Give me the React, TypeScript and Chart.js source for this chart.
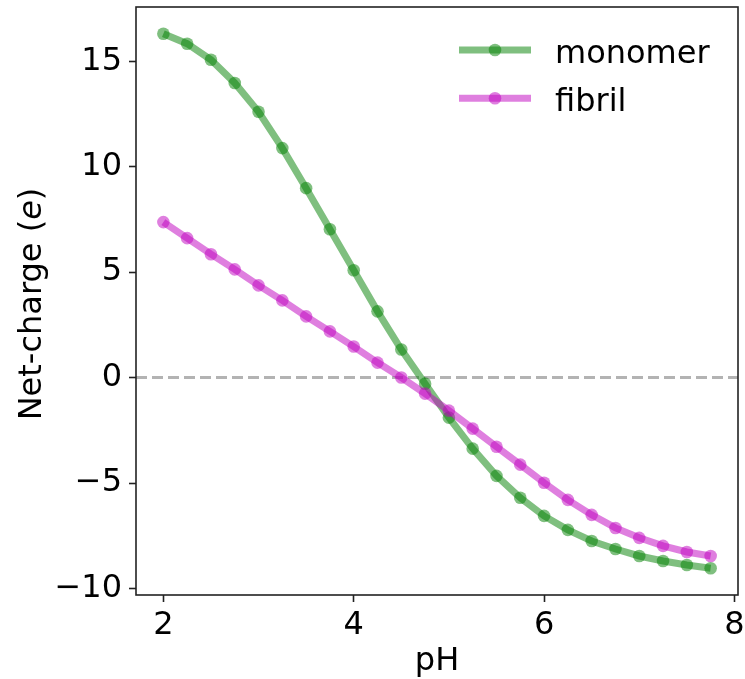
import React, { useEffect, useRef } from "react";
import { Chart, registerables } from "chart.js";

Chart.register(...registerables);

const pH = [2.0, 2.25, 2.5, 2.75, 3.0, 3.25, 3.5, 3.75, 4.0, 4.25, 4.5, 4.75, 5.0, 5.25, 5.5, 5.75, 6.0, 6.25, 6.5, 6.75, 7.0, 7.25, 7.5, 7.75];
const monomer = [16.3, 15.83, 15.07, 13.97, 12.6, 10.88, 8.98, 7.03, 5.09, 3.14, 1.33, -0.29, -1.9, -3.37, -4.66, -5.7, -6.56, -7.22, -7.75, -8.13, -8.46, -8.7, -8.89, -9.04];
const fibril = [7.37, 6.61, 5.85, 5.13, 4.37, 3.66, 2.9, 2.19, 1.47, 0.71, 0.0, -0.76, -1.57, -2.42, -3.28, -4.13, -4.99, -5.8, -6.51, -7.13, -7.6, -7.98, -8.27, -8.46];
const xTicks = [2, 4, 6, 8];
const yTicks = [-10, -5, 0, 5, 10, 15];
const seriesNames = ["monomer", "fibril"];
const lineColors = ["rgba(0,128,0,0.5)", "rgba(191,0,191,0.5)"];

const FONT = "'DejaVu Sans', sans-serif";

function fmt(v: number): string {
  return v < 0 ? "\u2212" + Math.abs(v) : String(v);
}

const customPlugin = {
  id: "custom",
  beforeDatasetsDraw(chart: any) {
    const { ctx, chartArea, scales } = chart;
    const y0 = scales.y.getPixelForValue(0);
    ctx.save();
    ctx.strokeStyle = "rgba(128,128,128,0.6)";
    ctx.lineWidth = 3;
    ctx.setLineDash([11, 5]);
    ctx.beginPath();
    ctx.moveTo(chartArea.left, y0);
    ctx.lineTo(chartArea.right, y0);
    ctx.stroke();
    ctx.restore();
  },
  afterDraw(chart: any) {
    const { ctx, chartArea } = chart;
    ctx.save();
    // spines
    ctx.strokeStyle = "#222";
    ctx.lineWidth = 1.6;
    ctx.strokeRect(chartArea.left, chartArea.top, chartArea.right - chartArea.left, chartArea.bottom - chartArea.top);

    // legend
    const lx0 = 459, lx1 = 531, tx = 555;
    const rows = [50, 98.3];
    seriesNames.forEach((name, i) => {
      const y = rows[i];
      ctx.strokeStyle = lineColors[i];
      ctx.lineWidth = 7;
      ctx.lineCap = "butt";
      ctx.beginPath();
      ctx.moveTo(lx0, y);
      ctx.lineTo(lx1, y);
      ctx.stroke();
      ctx.fillStyle = lineColors[i];
      ctx.beginPath();
      ctx.arc((lx0 + lx1) / 2, y, 6.3, 0, Math.PI * 2);
      ctx.fill();
      ctx.fillStyle = "#000";
      ctx.font = `32px ${FONT}`;
      ctx.textAlign = "left";
      ctx.textBaseline = "alphabetic";
      ctx.fillText(name, tx, y + 13);
    });

    // x title
    ctx.fillStyle = "#000";
    ctx.font = `32px ${FONT}`;
    ctx.textAlign = "center";
    ctx.textBaseline = "alphabetic";
    ctx.fillText("pH", (chartArea.left + chartArea.right) / 2, 670);

    // y title with italic e
    const parts: [string, string][] = [
      ["Net-charge (", `32px ${FONT}`],
      ["e", `italic 32px ${FONT}`],
      [")", `32px ${FONT}`],
    ];
    let total = 0;
    const widths = parts.map(([t, f]) => {
      ctx.font = f;
      const w = ctx.measureText(t).width;
      total += w;
      return w;
    });
    ctx.translate(41, 304);
    ctx.rotate(-Math.PI / 2);
    let x = -total / 2;
    ctx.textAlign = "left";
    parts.forEach(([t, f], i) => {
      ctx.font = f;
      ctx.fillText(t, x, 0);
      x += widths[i];
    });
    ctx.restore();
  },
};

export default function App() {
  const canvasRef = useRef<HTMLCanvasElement | null>(null);

  useEffect(() => {
    const canvas = canvasRef.current;
    if (!canvas) return;
    const mkData = (vals: number[]) => pH.map((x, i) => ({ x, y: vals[i] }));
    const chart = new Chart(canvas, {
      type: "line",
      data: {
        datasets: [
          {
            label: seriesNames[0],
            data: mkData(monomer),
            borderColor: lineColors[0],
            backgroundColor: lineColors[0],
            borderWidth: 7,
            pointRadius: 6.3,
            pointBorderWidth: 0,
            pointBackgroundColor: lineColors[0],
            tension: 0,
            fill: false,
            order: 1,
          },
          {
            label: seriesNames[1],
            data: mkData(fibril),
            borderColor: lineColors[1],
            backgroundColor: lineColors[1],
            borderWidth: 7,
            pointRadius: 6.3,
            pointBorderWidth: 0,
            pointBackgroundColor: lineColors[1],
            tension: 0,
            fill: false,
            order: 0,
          },
        ],
      },
      options: {
        animation: false,
        responsive: false,
        devicePixelRatio: 1,
        layout: { padding: { top: 7, right: 7, left: 0, bottom: 0 } },
        plugins: {
          legend: { display: false },
          tooltip: { enabled: false },
          title: { display: false },
        },
        scales: {
          x: {
            type: "linear",
            min: 1.7125,
            max: 8.0375,
            afterBuildTicks: (axis: any) => {
              axis.ticks = xTicks.map((v) => ({ value: v }));
            },
            afterFit: (axis: any) => {
              axis.height = 84;
              axis.paddingLeft = 0;
              axis.paddingRight = 0;
            },
            border: { display: false },
            grid: {
              display: true,
              drawOnChartArea: false,
              drawTicks: true,
              tickLength: 7,
              tickWidth: 1.6,
              tickColor: "#222",
            },
            ticks: {
              color: "#000",
              font: { family: FONT, size: 32 },
              padding: 4,
              maxRotation: 0,
              autoSkip: false,
              callback: (v: any) => fmt(Number(v)),
            },
          },
          y: {
            type: "linear",
            min: -10.31,
            max: 17.57,
            afterBuildTicks: (axis: any) => {
              axis.ticks = yTicks.map((v) => ({ value: v }));
            },
            afterFit: (axis: any) => {
              axis.width = 136;
              axis.paddingTop = 0;
              axis.paddingBottom = 0;
            },
            border: { display: false },
            grid: {
              display: true,
              drawOnChartArea: false,
              drawTicks: true,
              tickLength: 7,
              tickWidth: 1.6,
              tickColor: "#222",
            },
            ticks: {
              color: "#000",
              font: { family: FONT, size: 32 },
              padding: 7,
              autoSkip: false,
              callback: (v: any) => fmt(Number(v)),
            },
          },
        },
      },
      plugins: [customPlugin],
    });
    return () => chart.destroy();
  }, []);

  return (
    <div style={{ position: "absolute", left: 0, top: 0, width: 745, height: 679, background: "#fff" }}>
      <canvas ref={canvasRef} width={745} height={679} />
    </div>
  );
}
